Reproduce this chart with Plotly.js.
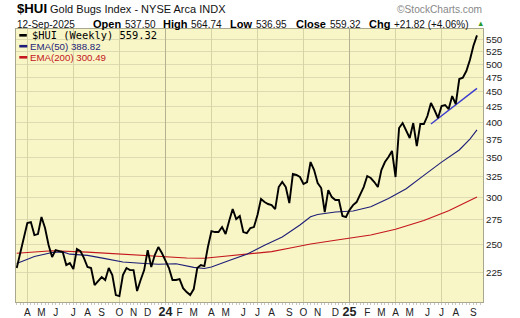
<!DOCTYPE html>
<html><head><meta charset="utf-8">
<script src="https://cdn.plot.ly/plotly-3.0.1.min.js"></script>
<style>html,body{margin:0;padding:0;background:#fff;} #chart{width:520px;height:318px;}</style>
</head><body><div id="chart"></div>
<script>
// ---------- data ----------
const symbol = '$HUI';
const indexName = 'Gold Bugs Index - NYSE Arca INDX';
const credit = '\u00a9StockCharts.com';
const quoteDate = '12-Sep-2025';
const quoteLabels = ['Open', 'High', 'Low', 'Close', 'Chg'];
const quoteValues = ['537.50', '564.74', '536.95', '559.32', '+21.82 (+4.06%)'];
const legendLabels = ['$HUI (Weekly) 559.32', 'EMA(50) 388.82', 'EMA(200) 300.49'];

const firstWeek = [2023, 2, 17]; // Friday 17-Mar-2023, weekly bars follow
const closes = [
  228.6, 242.2, 255.5, 271.8, 272.8, 259.5, 260.5, 278.1, 266.6, 249.7,
  238.5, 244.9, 244.0, 243.1, 231.2, 233.0, 227.7, 245.9, 244.0, 237.5,
  229.5, 228.6, 214.1, 217.4, 220.8, 218.3, 228.6, 222.5, 206.0, 205.2,
  222.5, 228.6, 226.8, 226.8, 209.2, 218.3, 226.8, 244.9, 229.5, 240.3,
  247.8, 242.2, 235.7, 228.6, 218.3, 218.3, 219.1, 211.6, 208.4, 206.0,
  210.8, 228.6, 231.2, 230.3, 247.8, 263.5, 262.5, 262.5, 267.6, 260.5,
  273.9, 286.8, 276.0, 279.2, 262.5, 261.5, 266.6, 267.6, 280.3, 298.0,
  294.6, 292.4, 291.2, 286.8, 312.1, 318.2, 312.1, 293.5, 328.1, 326.9,
  324.4, 315.8, 318.2, 343.6, 333.2, 317.0, 310.9, 283.5, 308.5, 300.3,
  296.9, 296.9, 279.2, 278.1, 285.7, 291.2, 294.6, 302.7, 312.1, 325.6,
  323.1, 318.2, 312.1, 333.2, 343.6, 350.3, 358.5, 324.4, 391.6, 399.2,
  387.1, 376.9, 399.2, 365.4, 397.7, 397.7, 410.1, 431.2, 419.7, 407.0,
  426.2, 427.9, 421.3, 442.9, 429.5, 472.8, 475.2, 487.6, 508.7, 537.5, 559.32
];
const ema50Weeks = [0,5,10,13,15,20,25,30,35,40,45,50,53,55,60,65,70,75,80,83,85,90,95,100,105,110,115,120,125,128,130];
const ema50Values = [232.7,238.9,242.7,243.2,241.1,240.0,237.0,234.0,232.8,231.9,232.4,229.2,228.2,229.5,235.3,241.1,249.5,257.5,269.7,278.4,280.9,283.6,284.6,289.4,298.7,310.0,326.5,343.5,359.9,375.4,388.82];
const ema200Weeks = [0,10,20,30,40,48,53,58,65,72,78,83,90,100,107,115,122,127,130];
const ema200Values = [241.9,244.3,243.0,240.9,238.9,237.6,237.3,238.8,240.8,243.5,247.3,250.7,254.3,259.6,265.3,274.5,285.0,294.5,300.49];
const trendWeeks = [117, 130];
const trendValues = [397.7, 456.2];
const yTicks = [225,250,275,300,325,350,375,400,425,450,475,500,525,550];
const monthLetters = ['J','F','M','A','M','J','J','A','S','O','N','D'];

// ---------- helpers ----------
const DAY = 86400000;
const t0 = Date.UTC(firstWeek[0], firstWeek[1], firstWeek[2]);
const weekMs = k => t0 + k * 7 * DAY;
const iso = ms => new Date(ms).toISOString().slice(0, 19).replace('T', ' ');
const weekDate = k => iso(weekMs(k)).slice(0, 10);

const dates = closes.map((_, k) => weekDate(k));

// month ticks at first weekly bar of each month
const tickVals = [], tickText = [], gridQ = [], gridY = [];
for (let k = 1; k < closes.length; k++) {
  const d = new Date(weekMs(k)), p = new Date(weekMs(k - 1));
  if (d.getUTCMonth() !== p.getUTCMonth()) {
    const m = d.getUTCMonth();
    tickVals.push(dates[k]);
    if (m === 0) {
      tickText.push('<span style="font-size:12.5px;font-weight:bold">' + String(d.getUTCFullYear()).slice(2) + '</span>');
      gridY.push(dates[k]);
    } else {
      tickText.push(monthLetters[m]);
      if (m % 3 === 0) gridQ.push(dates[k]);
    }
  }
}

// ---------- layout geometry (pixels) ----------
const W = 520, H = 318;
const PL = 16, PR = 483, PT = 29, PB = 302;
const xRange = [iso(t0 - 1.4 * DAY), iso(t0 + 921.9 * DAY)];
const yRange = [Math.log10(200.6), Math.log10(573.1)];
const px = x => (x - PL) / (PR - PL);
const py = y => (PB - y) / (PB - PT);

const F = 'Liberation Sans, Arial, sans-serif';
function ann(text, x, y, size, color, extra) {
  return Object.assign({
    xref: 'paper', yref: 'paper', x: px(x), y: py(y), xanchor: 'left', yanchor: 'middle',
    showarrow: false, text: text, borderpad: 0,
    font: { family: F, size: size, color: color }
  }, extra || {});
}

const annotations = [
  ann('<b>' + symbol + '</b>', 16, 8.8, 13.2, '#000'),
  ann(indexName, 48.5, 9.2, 11, '#111'),
  ann(credit, 483, 9.2, 10.2, '#888', { xanchor: 'right' }),
  ann(quoteDate, 16, 24.2, 10, '#111'),
];
const labelX = [91.7, 162.3, 228.7, 295, 368.3];
const valueX = [124, 190, 255, 329, 393];
quoteLabels.forEach((l, i) => {
  annotations.push(ann('<b>' + l + '</b>', labelX[i], 23.8, 11, '#000'));
  annotations.push(ann(quoteValues[i], valueX[i], 24.2, 10, '#111'));
});
annotations.push(ann('\u25B2', 475.5, 23.8, 7.5, '#2a9a2a'));
annotations.push(ann(legendLabels[0], 31, 35.3, 10.4, '#000', { font: { family: 'DejaVu Sans Mono, monospace', size: 10.4, color: '#000' } }));
annotations.push(ann(legendLabels[1], 29.3, 46.2, 9.7, '#1e1e78'));
annotations.push(ann(legendLabels[2], 29.3, 57.3, 9.7, '#c4161c'));

function dash(y, color, x0, x1) {
  return { type: 'line', xref: 'paper', yref: 'paper', x0: px(x0), x1: px(x1), y0: py(y), y1: py(y),
           line: { color: color, width: 2.6 } };
}
const shapes = [
  dash(35.3, '#000', 19.3, 26.8),
  dash(46.2, '#1e1e78', 19.3, 27.3),
  dash(57.3, '#c4161c', 19.3, 27.3),
];

// ---------- traces ----------
const traces = [
  { x: ema200Weeks.map(weekDate), y: ema200Values, mode: 'lines', line: { color: '#c4161c', width: 1.1 }, hoverinfo: 'skip' },
  { x: ema50Weeks.map(weekDate), y: ema50Values, mode: 'lines', line: { color: '#1e1e78', width: 1.1 }, hoverinfo: 'skip' },
  { x: trendWeeks.map(weekDate), y: trendValues, mode: 'lines', line: { color: '#3c3cd0', width: 1.4 }, hoverinfo: 'skip' },
  { x: dates, y: closes, mode: 'lines', line: { color: '#000', width: 1.9 }, hoverinfo: 'skip' },
  { x: [dates[0]], y: [closes[0]], xaxis: 'x2', mode: 'markers', marker: { opacity: 0 }, hoverinfo: 'skip' },
  { x: [dates[0]], y: [closes[0]], xaxis: 'x3', mode: 'markers', marker: { opacity: 0 }, hoverinfo: 'skip' },
];

const gridAxis = (vals, color) => ({
  type: 'date', overlaying: 'x', range: xRange, tickmode: 'array', tickvals: vals,
  showticklabels: false, ticks: '', showgrid: true, gridcolor: color, gridwidth: 1,
  zeroline: false, showline: false, fixedrange: true
});

const layout = {
  width: W, height: H,
  margin: { l: PL, r: W - PR, t: PT, b: H - PB, pad: 0 },
  paper_bgcolor: '#ffffff', plot_bgcolor: '#f8f5c6',
  showlegend: false,
  xaxis: {
    type: 'date', range: xRange, tickmode: 'array', tickvals: tickVals, ticktext: tickText,
    showgrid: false, ticks: '', ticklabelstandoff: 1,
    tickfont: { family: F, size: 10, color: '#222' },
    showline: true, mirror: true, linecolor: '#a8a890', linewidth: 1, zeroline: false, fixedrange: true,
    minor: { ticks: 'outside', ticklen: 2, tickcolor: '#c8c8c0', dtick: 7 * DAY, tick0: dates[0], showgrid: false }
  },
  xaxis2: gridAxis(gridQ, '#d6d4a6'),
  xaxis3: gridAxis(gridY, '#b4b290'),
  yaxis: {
    type: 'log', side: 'right', range: yRange, tickmode: 'array', tickvals: yTicks,
    ticktext: yTicks.map(String), ticks: '', showgrid: true, gridcolor: '#dddbb2', gridwidth: 1,
    tickfont: { family: F, size: 9.8, color: '#222' },
    showline: true, mirror: true, linecolor: '#a8a890', linewidth: 1, zeroline: false, fixedrange: true
  },
  annotations: annotations,
  shapes: shapes
};

Plotly.newPlot('chart', traces, layout, { staticPlot: true, displayModeBar: false });
</script>
</body></html>
